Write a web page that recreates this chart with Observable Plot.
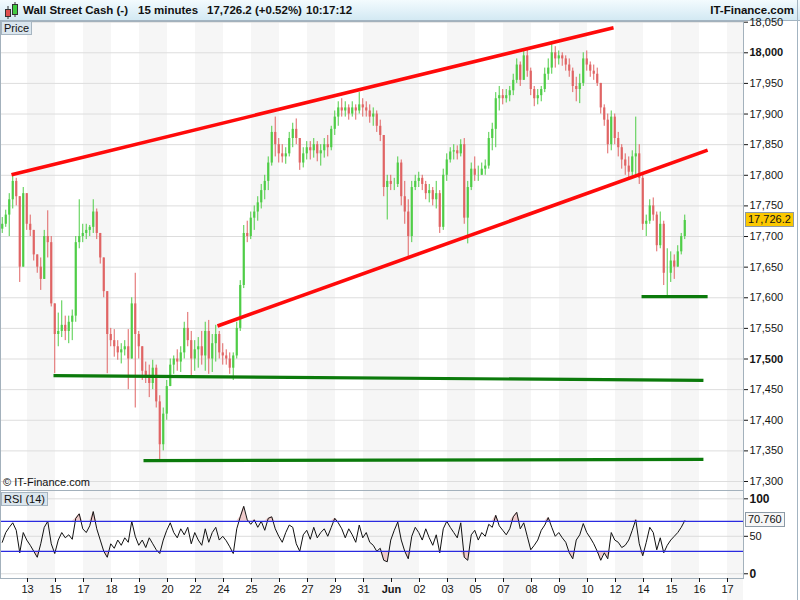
<!DOCTYPE html>
<html><head><meta charset="utf-8">
<script src="https://cdn.jsdelivr.net/npm/d3@7"></script>
<script src="https://cdn.jsdelivr.net/npm/@observablehq/plot@0.6"></script>
<style>
html,body{margin:0;padding:0;background:#fff}
body{width:800px;height:600px;position:relative;overflow:hidden;font-family:"Liberation Sans",Arial,sans-serif;color:#111}
#hdr{position:absolute;left:0;top:0;width:800px;height:21px;background:linear-gradient(#f3fbfe,#d3e9f3);border-bottom:1px solid #a3b4c1;box-sizing:border-box}
.ht{position:absolute;top:3px;font-size:11.5px;font-weight:bold;line-height:14px;white-space:nowrap;color:#111}
.tag{position:absolute;font-size:11px;line-height:12px;background:#dbe6ee;border:1px solid #a6b5c1;padding:0 2px;color:#111}
.panel{position:absolute;left:0}
.vbox{position:absolute;left:745px;font-size:11px;line-height:13px;padding:0 2px;border:1px solid #8c9aa6;color:#111}
#copy{position:absolute;left:3px;top:476px;font-size:11px;color:#111}
#edge{position:absolute;left:797px;top:0;width:1px;height:600px;background:#a3b4c1}
</style></head>
<body>
<div id="hdr">
  <svg width="20" height="20" style="position:absolute;left:2px;top:0">
    <line x1="6" y1="6" x2="6" y2="19" stroke="#333"/><rect x="3.5" y="9.5" width="5" height="7" fill="#e05050" stroke="#333"/>
    <line x1="13" y1="2" x2="13" y2="17" stroke="#333"/><rect x="10.5" y="4.5" width="5" height="10" fill="#40cc40" stroke="#333"/>
  </svg>
  <span class="ht" style="left:23px">Wall Street Cash (-)</span>
  <span class="ht" style="left:138px">15 minutes</span>
  <span class="ht" style="left:207px">17,726.2 (+0.52%)</span>
  <span class="ht" style="left:306px">10:17:12</span>
  <span class="ht" style="right:6px">IT-Finance.com</span>
</div>
<div id="pricePanel" class="panel" style="top:21px"></div>
<div id="rsiPanel" class="panel" style="top:490px"></div>
<div class="tag" style="left:1px;top:21px">Price</div>
<div id="copy">© IT-Finance.com</div>
<div class="tag" style="left:1px;top:492px">RSI (14)</div>
<div id="edge"></div>
<script>
// ---------- data (15-min candles, resampled ~8 per day) ----------
const firstOpen = 17712;
const high = [
 17731,17743,17770,17803,17795,17765,17780,17755,
 17735,17690,17670,17665,17710,17742,17700,17565,
 17575,17595,17570,17570,17580,17700,17760,17720,
 17720,17718,17760,17745,17700,17640,17605,17550,
 17548,17530,17525,17530,17548,17600,17640,17545,
 17500,17495,17490,17498,17490,17440,17420,17465,
 17500,17505,17515,17520,17560,17576,17545,17530,
 17535,17545,17560,17563,17540,17555,17545,17525,
 17515,17510,17510,17560,17628,17718,17725,17740,
 17750,17765,17785,17800,17830,17880,17895,17860,
 17850,17845,17870,17885,17892,17860,17845,17855,
 17855,17860,17855,17850,17860,17865,17880,17905,
 17920,17925,17920,17915,17920,17915,17935,17925,
 17920,17915,17910,17905,17890,17865,17800,17800,
 17795,17830,17825,17790,17760,17790,17800,17805,
 17800,17790,17785,17780,17790,17775,17810,17835,
 17845,17850,17848,17858,17860,17790,17820,17830,
 17815,17820,17825,17870,17885,17935,17945,17940,
 17940,17945,17965,17990,17985,18003,18005,17975,
 17945,17940,17945,17975,17990,18015,18010,18003,
 18000,17995,17990,17975,17960,17965,18000,18003,
 17985,17980,17975,17950,17915,17900,17905,17900,
 17870,17850,17835,17830,17840,17895,17850,17800,
 17735,17760,17763,17740,17740,17725,17680,17675,
 17670,17685,17705,17735];
const low = [
 17705,17715,17700,17745,17750,17625,17665,17710,
 17700,17660,17640,17612,17655,17665,17585,17476,
 17520,17535,17530,17525,17530,17560,17680,17690,
 17695,17700,17705,17695,17655,17600,17476,17520,
 17503,17498,17492,17505,17450,17530,17420,17500,
 17465,17460,17437,17450,17420,17331,17350,17400,
 17465,17475,17480,17478,17500,17520,17470,17480,
 17485,17490,17480,17475,17478,17495,17500,17490,
 17490,17475,17465,17500,17545,17615,17690,17695,
 17710,17725,17745,17760,17775,17815,17830,17820,
 17820,17818,17830,17845,17850,17808,17812,17825,
 17825,17828,17822,17815,17828,17830,17840,17865,
 17880,17895,17895,17890,17895,17890,17900,17895,
 17895,17885,17880,17870,17855,17765,17727,17775,
 17775,17780,17750,17720,17667,17690,17775,17780,
 17775,17760,17755,17750,17745,17705,17710,17790,
 17820,17825,17825,17830,17720,17688,17775,17790,
 17790,17800,17800,17810,17840,17845,17905,17915,
 17918,17920,17930,17950,17945,17955,17960,17930,
 17912,17915,17920,17935,17955,17965,17975,17980,
 17978,17970,17960,17935,17920,17917,17945,17970,
 17960,17955,17945,17900,17880,17835,17840,17850,
 17830,17810,17800,17795,17795,17800,17785,17710,
 17700,17720,17725,17675,17680,17620,17599,17625,
 17630,17650,17670,17695];
const close = [
 17720,17735,17760,17790,17765,17650,17770,17720,
 17710,17670,17650,17630,17700,17690,17590,17540,
 17545,17555,17545,17560,17570,17690,17700,17705,
 17710,17715,17740,17705,17665,17610,17540,17530,
 17520,17510,17515,17520,17500,17590,17540,17520,
 17480,17470,17460,17485,17430,17360,17410,17455,
 17490,17500,17495,17510,17550,17530,17500,17515,
 17520,17505,17545,17500,17525,17540,17510,17505,
 17500,17485,17505,17550,17620,17705,17700,17730,
 17740,17755,17775,17790,17820,17870,17850,17835,
 17830,17835,17860,17875,17860,17820,17835,17845,
 17840,17850,17835,17840,17850,17845,17875,17895,
 17910,17905,17910,17900,17910,17905,17915,17910,
 17905,17895,17900,17880,17865,17780,17790,17785,
 17785,17820,17765,17740,17700,17780,17790,17795,
 17785,17770,17775,17760,17770,17715,17800,17825,
 17838,17840,17835,17850,17730,17780,17810,17800,
 17800,17810,17815,17860,17875,17925,17930,17925,
 17930,17938,17955,17980,17955,17995,17970,17940,
 17925,17930,17940,17965,17975,18000,17990,17995,
 17990,17980,17970,17945,17940,17950,17990,17980,
 17970,17965,17950,17910,17890,17850,17895,17860,
 17845,17825,17815,17805,17830,17835,17795,17720,
 17725,17750,17735,17685,17720,17640,17640,17660,
 17650,17675,17700,17726.2];
const rsiValues = [
 42,55,62,68,58,28,55,45,
 38,30,22,40,62,70,40,27,
 45,55,48,52,46,74,80,60,
 55,64,83,60,45,30,22,40,
 34,45,38,48,42,70,50,38,
 45,35,48,40,32,27,45,58,
 68,55,48,60,52,62,40,55,
 45,38,60,42,55,62,45,50,
 44,36,27,60,76,90,72,66,
 72,62,70,58,74,76,60,50,
 42,55,65,62,40,30,52,58,
 46,62,48,55,60,50,62,74,
 68,60,48,60,52,42,65,48,
 55,42,38,30,34,18,16,45,
 58,69,45,30,20,50,62,55,
 45,60,48,38,52,28,60,70,
 62,55,48,68,22,18,52,58,
 45,55,50,66,62,78,64,58,
 52,60,76,82,60,68,50,32,
 38,45,58,65,75,62,50,55,
 48,42,28,20,45,52,67,55,
 48,40,30,18,28,20,55,45,
 42,35,38,45,58,72,40,24,
 42,62,55,32,48,28,38,45,
 50,55,62,70.76];
// trend lines (day-index, price)
const resistanceLines = [
 {x1:-0.571, y1:17801, x2:20.93, y2:18041},
 {x1:6.786, y1:17554, x2:24.29, y2:17841}
];
const supportLines = [
 {x1:0.929, y1:17473, x2:24.14, y2:17465},
 {x1:4.143, y1:17334, x2:24.14, y2:17336},
 {x1:21.93, y1:17602, x2:24.29, y2:17602}
];
const dayLabels = ["13","15","17","18","19","20","22","24","25","26","27","29","31","Jun","02","03","05","07","08","09","10","12","14","15","16","17"];
const shadedDays = [0,2,4,6,8,10,12,13,15,17,19,21,23,25];
const priceTicks = [17300,17350,17400,17450,17500,17550,17600,17650,17700,17750,17800,17850,17900,17950,18000,18050];
const rsiTicks = [0,50,100];
const rsiLevels = [30,70];

// ---------- build ----------
const GREEN = "#4fcd47", RED = "#e06464";
const BAND = "#f6f6f6";
const xDom = [-27/28, 716/28];
const startT = -0.9018, stepT = 0.125;
const candles = close.map((c,i)=>{
  const o = i ? close[i-1] : firstOpen;
  return {t:startT+i*stepT, o, c, hi:Math.max(high[i],o,c), lo:Math.min(low[i],o,c), col:c>=o?GREEN:RED};
});
const rsiPts = rsiValues.map((v,i)=>({t:startT+i*stepT, v}));
const fmt = d3.format(",");
const font = "'Liberation Sans', Arial, sans-serif";
const bandX2 = d => Math.min(d+1, xDom[1]);

const yDom = [17285.3, 18051.1];
const price = Plot.plot({
  width:800, height:469, marginLeft:0, marginRight:57, marginTop:0, marginBottom:0,
  style:{background:"transparent", fontFamily:font, fontSize:"11px", color:"#151515", overflow:"visible"},
  x:{domain:xDom, axis:null},
  y:{domain:yDom, axis:null},
  color:{type:"identity"},
  marks:[
    Plot.rect(shadedDays, {x1:d=>d, x2:bandX2, y1:yDom[0], y2:yDom[1], fill:BAND}),
    Plot.ruleY(priceTicks, {stroke:"#dddddd", strokeWidth:1}),
    Plot.ruleX(candles, {x:"t", y1:"lo", y2:"hi", stroke:"col", strokeWidth:1}),
    Plot.ruleX(candles, {x:"t", y1:"o", y2:"c", stroke:"col", strokeWidth:2.2}),
    Plot.link(resistanceLines, {x1:"x1", y1:"y1", x2:"x2", y2:"y2", stroke:"#ff0a0a", strokeWidth:3.6}),
    Plot.link(supportLines, {x1:"x1", y1:"y1", x2:"x2", y2:"y2", stroke:"#0b7a0b", strokeWidth:3.2}),
    Plot.frame({stroke:"#a3b1bc"}),
    Plot.axisY(priceTicks.filter(v=>v%500!==0), {anchor:"right", label:null, tickSize:4, tickPadding:2, tickFormat:fmt, fontSize:11}),
    Plot.axisY(priceTicks.filter(v=>v%500===0), {anchor:"right", label:null, tickSize:4, tickPadding:2, tickFormat:fmt, fontSize:11, fontWeight:"bold"})
  ]
});
document.getElementById("pricePanel").appendChild(price);

const rsiDom = [-6.3, 111.1];
const rsi = Plot.plot({
  width:800, height:110, marginLeft:0, marginRight:57, marginTop:0, marginBottom:22,
  style:{background:"transparent", fontFamily:font, fontSize:"11px", color:"#151515", overflow:"visible"},
  x:{domain:xDom, axis:null},
  y:{domain:rsiDom, axis:null},
  marks:[
    Plot.rect(shadedDays, {x1:d=>d, x2:bandX2, y1:-35.6, y2:rsiDom[1], fill:BAND}),
    Plot.ruleY(rsiTicks, {stroke:"#dddddd"}),
    Plot.areaY(rsiPts, {x:"t", y1:70, y2:d=>Math.max(70,d.v), fill:"#efcaca"}),
    Plot.areaY(rsiPts, {x:"t", y1:30, y2:d=>Math.min(30,d.v), fill:"#efcaca"}),
    Plot.line(rsiPts, {x:"t", y:"v", stroke:"#111", strokeWidth:1}),
    Plot.ruleY(rsiLevels, {stroke:"#2a2ae0", strokeWidth:1.2}),
    Plot.frame({stroke:"#a3b1bc"}),
    Plot.axisY([50], {anchor:"right", label:null, tickSize:4, tickPadding:2, fontSize:11}),
    Plot.axisY([0,100], {anchor:"right", label:null, tickSize:4, tickPadding:2, fontSize:12, fontWeight:"bold"}),
    Plot.axisX(dayLabels.map((d,i)=>i).filter(i=>dayLabels[i]!=="Jun"), {anchor:"bottom", label:null, tickSize:4, tickPadding:3, fontSize:11, tickFormat:i=>dayLabels[i]}),
    Plot.axisX(dayLabels.map((d,i)=>i).filter(i=>dayLabels[i]==="Jun"), {anchor:"bottom", label:null, tickSize:4, tickPadding:3, fontSize:11, fontWeight:"bold", tickFormat:i=>dayLabels[i]})
  ]
});
document.getElementById("rsiPanel").appendChild(rsi);

// value boxes on the right axes, positioned via the plots' own scales
const lastClose = close[close.length-1];
const lastRsi = rsiValues[rsiValues.length-1];
const pb = document.createElement("div");
pb.className = "vbox";
pb.style.background = "#fbc800";
pb.textContent = d3.format(",.1f")(lastClose);
pb.style.top = (21 + price.scale("y").apply(lastClose) - 8) + "px";
document.body.appendChild(pb);
const rb = document.createElement("div");
rb.className = "vbox";
rb.style.background = "#f6f6f6";
rb.textContent = d3.format(".3f")(lastRsi);
rb.style.top = (490 + rsi.scale("y").apply(lastRsi) - 8) + "px";
document.body.appendChild(rb);
</script>
</body></html>
